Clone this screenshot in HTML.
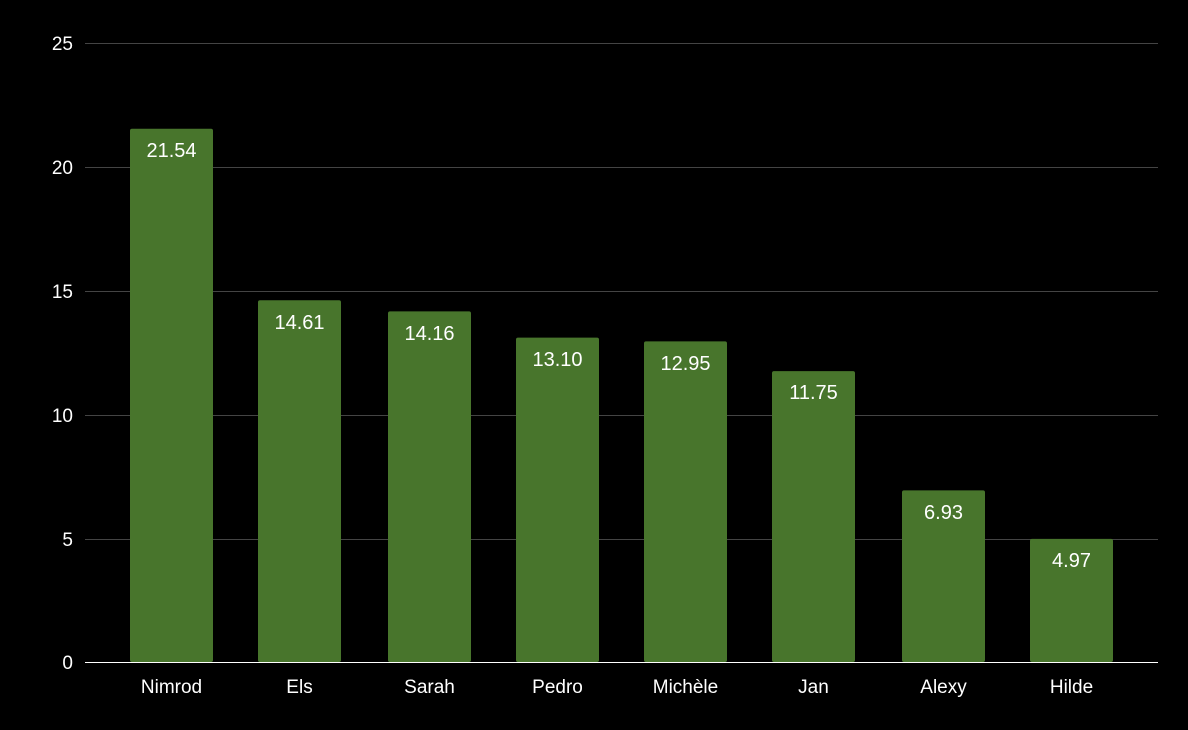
<!DOCTYPE html>
<html><head><style>
body{margin:0;background:#000;}
svg{display:block;font-family:"Liberation Sans",Arial,sans-serif;}
</style></head><body>
<svg width="1188" height="730" viewBox="0 0 1188 730">
<rect width="1188" height="730" fill="#000"/>
<g stroke="#444" stroke-width="1">
<line x1="85" x2="1158" y1="43.5" y2="43.5"/>
<line x1="85" x2="1158" y1="167.5" y2="167.5"/>
<line x1="85" x2="1158" y1="291.5" y2="291.5"/>
<line x1="85" x2="1158" y1="415.5" y2="415.5"/>
<line x1="85" x2="1158" y1="539.5" y2="539.5"/>
</g>
<g fill="#fff" font-size="19" text-anchor="end">
<text x="73" y="50">25</text>
<text x="73" y="174">20</text>
<text x="73" y="298">15</text>
<text x="73" y="422">10</text>
<text x="73" y="546">5</text>
<text x="73" y="669">0</text>
</g>
<g fill="#48752c">
<rect x="130" y="128.7" width="83" height="533.3" rx="2"/>
<rect x="258" y="300.3" width="83" height="361.7" rx="2"/>
<rect x="388" y="311.4" width="83" height="350.6" rx="2"/>
<rect x="516" y="337.6" width="83" height="324.4" rx="2"/>
<rect x="644" y="341.4" width="83" height="320.6" rx="2"/>
<rect x="772" y="371.1" width="83" height="290.9" rx="2"/>
<rect x="902" y="490.4" width="83" height="171.6" rx="2"/>
<rect x="1030" y="538.9" width="83" height="123.1" rx="2"/>
</g>
<line x1="85" x2="1158" y1="662.5" y2="662.5" stroke="#fff" stroke-width="1"/>
<g fill="#fff" font-size="20" text-anchor="middle">
<text x="171.5" y="157">21.54</text>
<text x="299.5" y="329">14.61</text>
<text x="429.5" y="340">14.16</text>
<text x="557.5" y="366">13.10</text>
<text x="685.5" y="370">12.95</text>
<text x="813.5" y="399">11.75</text>
<text x="943.5" y="519">6.93</text>
<text x="1071.5" y="567">4.97</text>
</g>
<g fill="#fff" font-size="19" text-anchor="middle">
<text x="171.5" y="693">Nimrod</text>
<text x="299.5" y="693">Els</text>
<text x="429.5" y="693">Sarah</text>
<text x="557.5" y="693">Pedro</text>
<text x="685.5" y="693">Michèle</text>
<text x="813.5" y="693">Jan</text>
<text x="943.5" y="693">Alexy</text>
<text x="1071.5" y="693">Hilde</text>
</g>
</svg>
</body></html>
